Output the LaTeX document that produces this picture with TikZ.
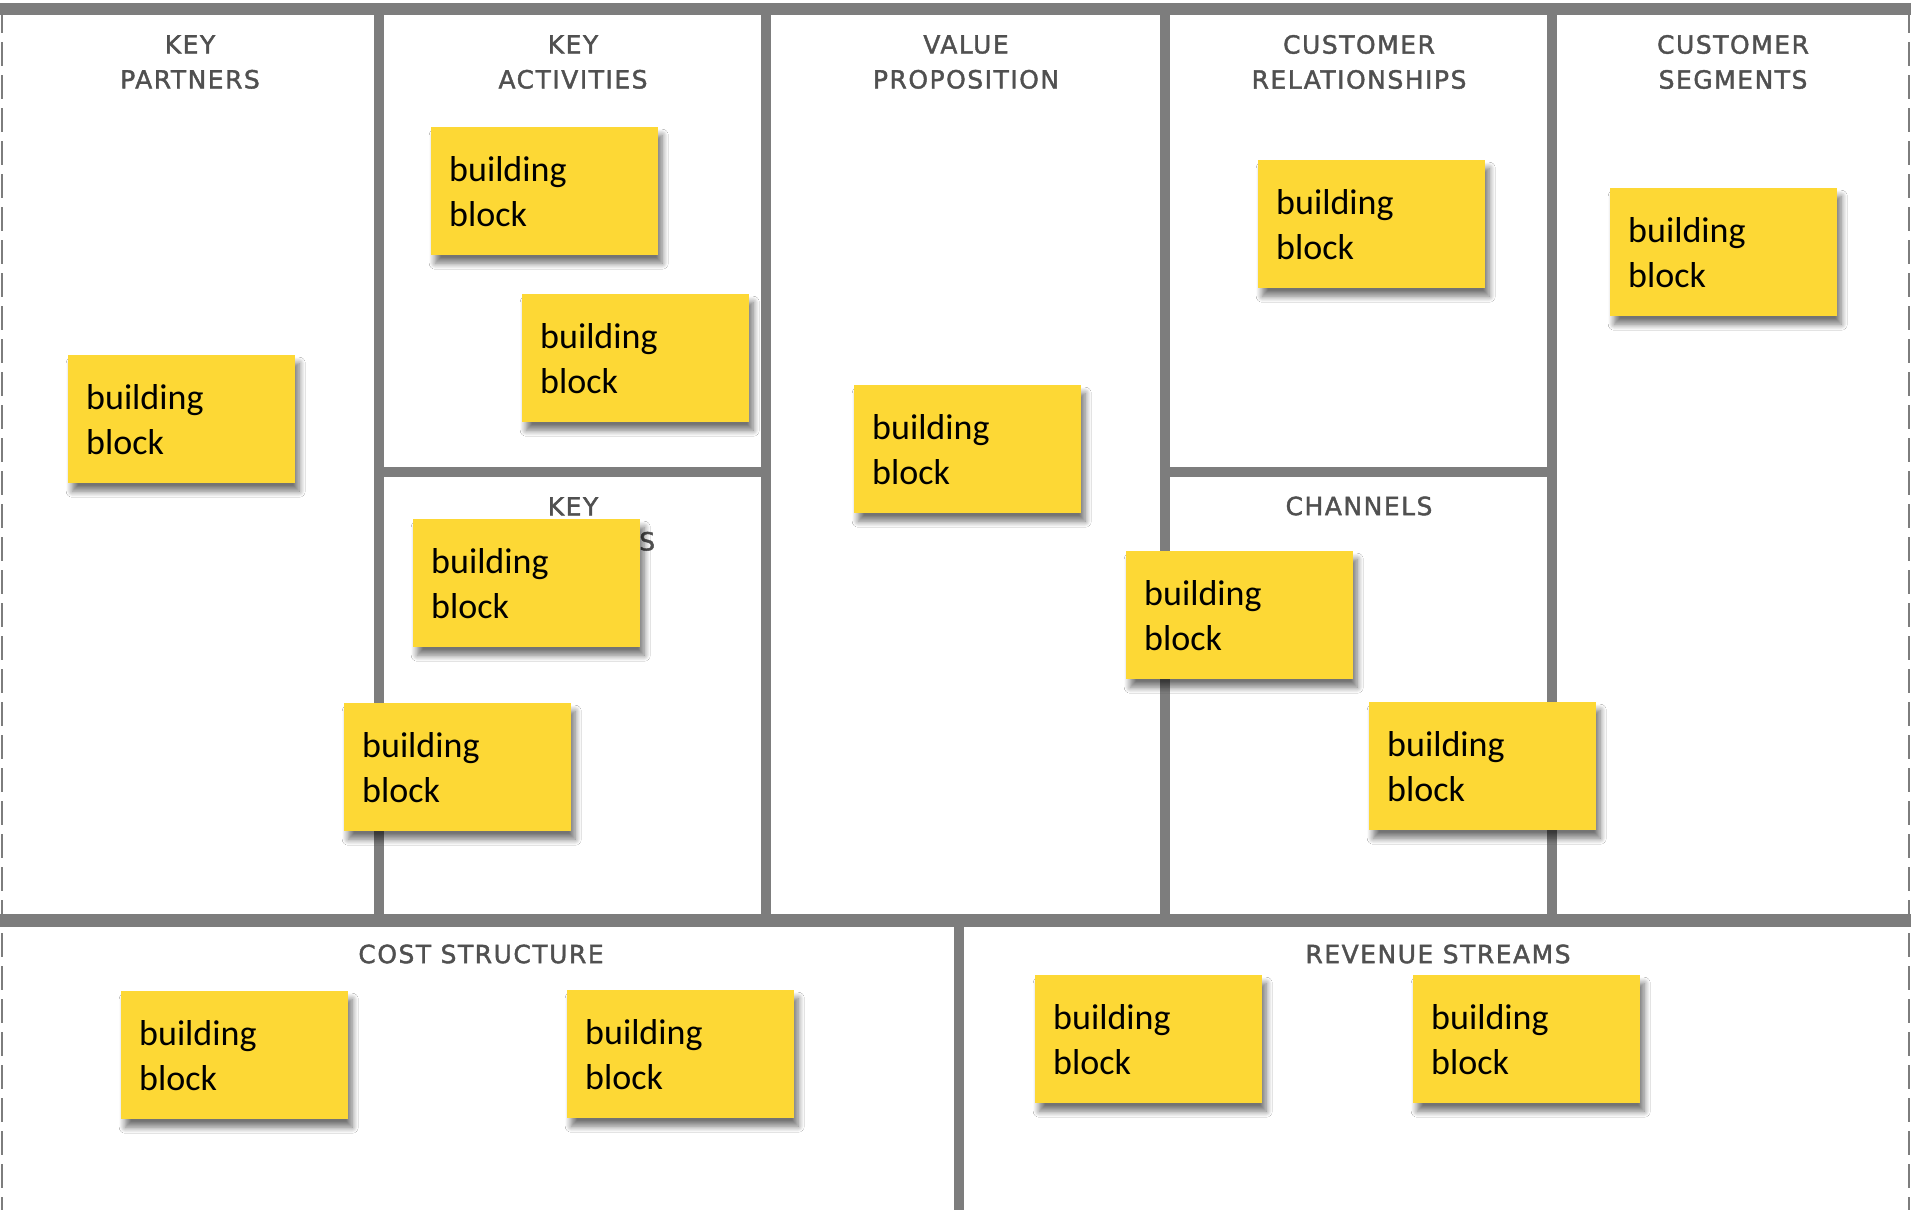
\documentclass[tikz,border=0pt]{standalone}
\usepackage{fontspec}
\setmainfont{Carlito}
\newfontfamily\headfont[LetterSpace=6,FakeBold=1.6]{DejaVu Sans}
\usetikzlibrary{shadows.blur}
\definecolor{stickyyellow}{HTML}{FDD835}
\definecolor{gridgray}{HTML}{7D7D7D}
\definecolor{headgray}{HTML}{505050}

\begin{document}
\begin{tikzpicture}[x=1pt,y=-1pt,
  gridline/.style={draw=gridgray, line width=10pt},
  borderline/.style={draw=gridgray, line width=2pt, dash pattern=on 24pt off 9pt},
  heading/.style={text=headgray, align=center, inner sep=0pt,
    font=\headfont\fontsize{25}{35}\selectfont},
  sticky/.style={anchor=north west, fill=stickyyellow, draw=none,
    minimum width=227pt, minimum height=128pt, text width=191pt,
    inner xsep=18pt, inner ysep=0pt, align=left,
    font=\fontsize{36}{45}\selectfont,
    blur shadow={shadow xshift=4pt, shadow yshift=-8pt,
      shadow blur radius=6pt, shadow blur steps=10, shadow opacity=55}}]

\useasboundingbox (0,0) rectangle (1911,1210);
\fill[white] (0,0) rectangle (1911,1210);

% canvas frame
\draw[borderline] (2,9) -- (2,1210);
\draw[borderline] (1909,9) -- (1909,1210);
\draw[gridline, line width=12pt] (0,9) -- (1911,9);
\draw[gridline, line width=13pt] (0,920) -- (1911,920);

% upper columns
\draw[gridline] (379,9) -- (379,920);
\draw[gridline] (766,9) -- (766,920);
\draw[gridline] (1165,9) -- (1165,920);
\draw[gridline] (1552,9) -- (1552,920);
\draw[gridline] (379,472) -- (766,472);
\draw[gridline] (1165,472) -- (1552,472);

% lower split
\draw[gridline] (959,920) -- (959,1210);

% block headings
\node[heading] (hKP) at (190,62) {KEY\\PARTNERS};
\node[heading] (hKA) at (573,62) {KEY\\ACTIVITIES};
\node[heading] (hKR) at (573,524) {KEY\\RESOURCES};
\node[heading] (hVP) at (966,62) {VALUE\\PROPOSITION};
\node[heading] (hCR) at (1359,62) {CUSTOMER\\RELATIONSHIPS};
\node[heading] (hCH) at (1359,506) {CHANNELS};
\node[heading] (hCS) at (1733,62) {CUSTOMER\\SEGMENTS};
\node[heading] (hCO) at (481,954) {COST STRUCTURE};
\node[heading] (hRE) at (1438,954) {REVENUE STREAMS};

% sticky notes
\node[sticky] (kp1) at (68,355) {building\\block};
\node[sticky] (ka1) at (431,127) {building\\block};
\node[sticky] (ka2) at (522,294) {building\\block};
\node[sticky] (kr1) at (413,519) {building\\block};
\node[sticky] (kr2) at (344,703) {building\\block};
\node[sticky] (vp1) at (854,385) {building\\block};
\node[sticky] (cr1) at (1258,160) {building\\block};
\node[sticky] (cs1) at (1610,188) {building\\block};
\node[sticky] (ch1) at (1126,551) {building\\block};
\node[sticky] (ch2) at (1369,702) {building\\block};
\node[sticky] (co1) at (121,991) {building\\block};
\node[sticky] (co2) at (567,990) {building\\block};
\node[sticky] (re1) at (1035,975) {building\\block};
\node[sticky] (re2) at (1413,975) {building\\block};

\end{tikzpicture}
\end{document}
